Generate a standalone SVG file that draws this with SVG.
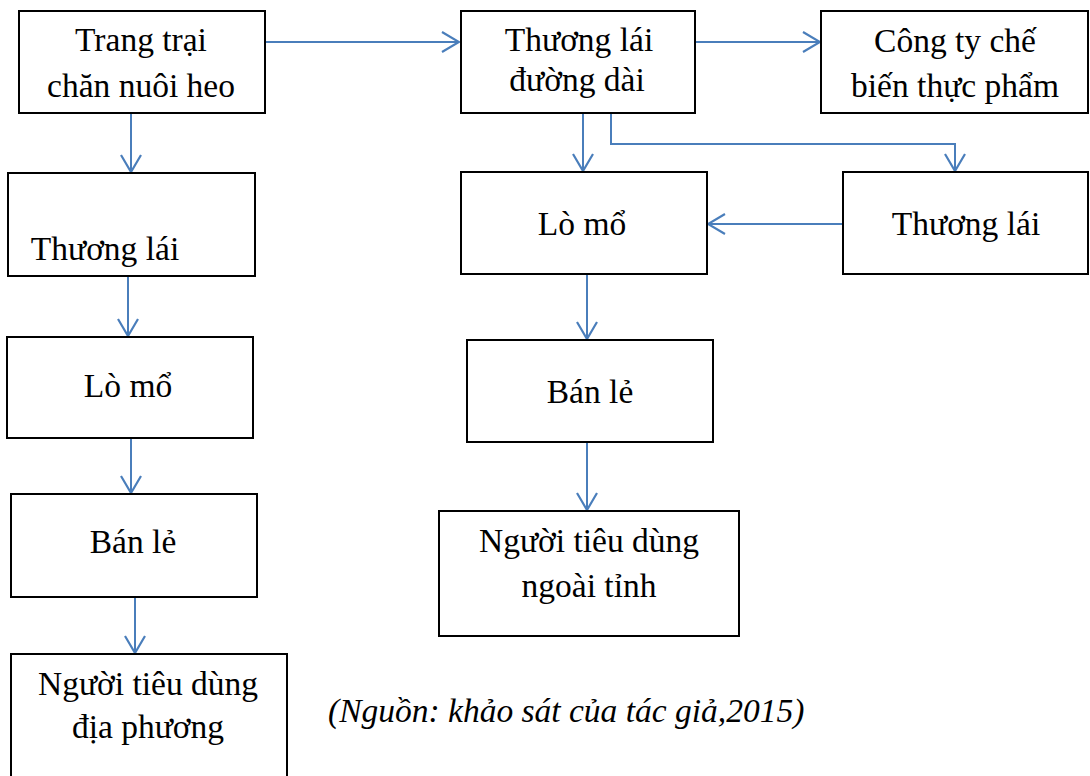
<svg xmlns="http://www.w3.org/2000/svg" width="1090" height="776" viewBox="0 0 1090 776">
  <style>
    .box { fill: #ffffff; stroke: #000000; stroke-width: 2; }
    .lbl { font-family: "Liberation Serif", "Times New Roman", serif; font-size: 33.5px; fill: #000000; text-anchor: middle; }
    .cap { font-family: "Liberation Serif", "Times New Roman", serif; font-size: 33.5px; font-style: italic; fill: #000000; }
    .conn { fill: none; stroke: #4a7ebb; stroke-width: 2; }
  </style>
  <defs>
    <marker id="arrow" markerUnits="userSpaceOnUse" viewBox="-19 -12 21 24" refX="0" refY="0" markerWidth="21" markerHeight="24" orient="auto">
      <path d="M-17,-10 L0,0 L-17,10" fill="none" stroke="#4a7ebb" stroke-width="2.2"/>
    </marker>
  </defs>
  <rect width="1090" height="776" fill="#ffffff"/>

  <g id="connectors">
    <path class="conn" d="M265,42 H459" marker-end="url(#arrow)"/>
    <path class="conn" d="M695,42 H820" marker-end="url(#arrow)"/>
    <path class="conn" d="M131,113 V172" marker-end="url(#arrow)"/>
    <path class="conn" d="M128,276 V336" marker-end="url(#arrow)"/>
    <path class="conn" d="M131,438 V493" marker-end="url(#arrow)"/>
    <path class="conn" d="M135,597 V653" marker-end="url(#arrow)"/>
    <path class="conn" d="M583,113 V171" marker-end="url(#arrow)"/>
    <path class="conn" d="M611,113 V144 H955 V171" marker-end="url(#arrow)"/>
    <path class="conn" d="M843,224 H708" marker-end="url(#arrow)"/>
    <path class="conn" d="M587,274 V339" marker-end="url(#arrow)"/>
    <path class="conn" d="M587,442 V510" marker-end="url(#arrow)"/>
  </g>

  <g id="farm">
    <rect class="box" x="19" y="11" width="246" height="102"/>
    <text class="lbl" x="141" y="51">Trang trại</text>
    <text class="lbl" x="141" y="97">chăn nuôi heo</text>
  </g>
  <g id="trader-long">
    <rect class="box" x="461" y="11" width="234" height="102"/>
    <text class="lbl" x="579" y="51">Thương lái</text>
    <text class="lbl" x="577" y="91">đường dài</text>
  </g>
  <g id="processor">
    <rect class="box" x="821" y="11" width="267" height="102"/>
    <text class="lbl" x="955" y="52">Công ty chế</text>
    <text class="lbl" x="955" y="97">biến thực phẩm</text>
  </g>
  <g id="trader-left">
    <rect class="box" x="8" y="173" width="247" height="103"/>
    <text class="lbl" x="105" y="260">Thương lái</text>
  </g>
  <g id="slaughter-left">
    <rect class="box" x="7" y="337" width="246" height="101"/>
    <text class="lbl" x="128" y="397">Lò mổ</text>
  </g>
  <g id="retail-left">
    <rect class="box" x="11" y="494" width="246" height="103"/>
    <text class="lbl" x="133" y="553">Bán lẻ</text>
  </g>
  <g id="consumer-local">
    <rect class="box" x="11" y="654" width="276" height="140"/>
    <text class="lbl" x="148" y="695">Người tiêu dùng</text>
    <text class="lbl" x="148" y="738">địa phương</text>
  </g>
  <g id="slaughter-mid">
    <rect class="box" x="461" y="172" width="246" height="102"/>
    <text class="lbl" x="582" y="235">Lò mổ</text>
  </g>
  <g id="trader-right">
    <rect class="box" x="843" y="172" width="245" height="102"/>
    <text class="lbl" x="966" y="235">Thương lái</text>
  </g>
  <g id="retail-mid">
    <rect class="box" x="467" y="340" width="246" height="102"/>
    <text class="lbl" x="590" y="403">Bán lẻ</text>
  </g>
  <g id="consumer-out">
    <rect class="box" x="439" y="511" width="300" height="125"/>
    <text class="lbl" x="589" y="552">Người tiêu dùng</text>
    <text class="lbl" x="589" y="597">ngoài tỉnh</text>
  </g>

  <text class="cap" x="328" y="722">(Nguồn: khảo sát của tác giả,2015)</text>
</svg>
